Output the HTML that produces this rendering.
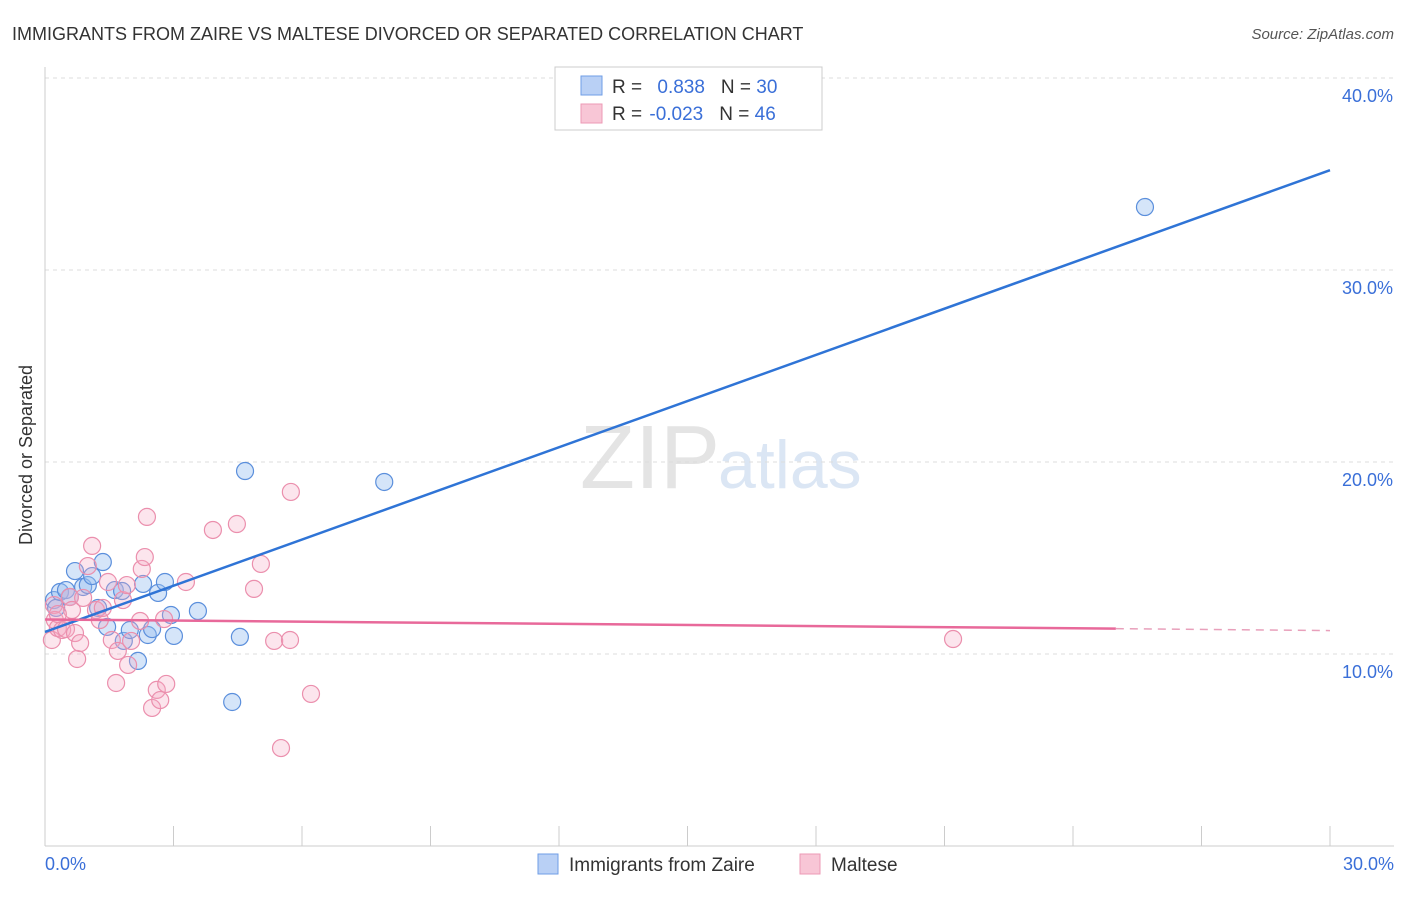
<!DOCTYPE html>
<html><head><meta charset="utf-8"><style>
body{margin:0;background:#fff;font-family:"Liberation Sans",sans-serif;}
svg text{font-family:"Liberation Sans",sans-serif;}
</style></head><body>
<svg width="1406" height="892" xmlns="http://www.w3.org/2000/svg">
<text x="12" y="40" font-size="18" fill="#333">IMMIGRANTS FROM ZAIRE VS MALTESE DIVORCED OR SEPARATED CORRELATION CHART</text>
<text x="1394" y="39" font-size="15" fill="#555" font-style="italic" text-anchor="end">Source: ZipAtlas.com</text>
<text x="720" y="488" font-size="90" fill="#e4e4e4" text-anchor="end" font-family="Liberation Serif">ZIP</text>
<text x="718" y="488" font-size="68" fill="#dbe6f4">atlas</text>
<g id="grid"></g>
<line x1="45" y1="67" x2="45" y2="846" stroke="#ccc"/>
<line x1="45" y1="846" x2="1394" y2="846" stroke="#ccc"/>
<g id="ticks"></g>
<text x="32" y="455" font-size="18" fill="#333" text-anchor="middle" transform="rotate(-90 32 455)">Divorced or Separated</text>
<text x="45" y="870" font-size="18" fill="#3a6fd8">0.0%</text>
<text x="1394" y="870" font-size="18" fill="#3a6fd8" text-anchor="end">30.0%</text>
<g id="pts"></g>
<g id="lines"></g>
<g>
<rect x="555" y="67" width="267" height="63" fill="#fff" stroke="#ccc"/>
<rect x="581" y="76" width="21" height="19" fill="#b9d0f5" stroke="#6f9ee6"/>
<rect x="581" y="104" width="21" height="19" fill="#f8c6d6" stroke="#ec9ab5"/>
<text x="612" y="93" font-size="19" fill="#333">R = <tspan fill="#3a6fd8" dx="10">0.838</tspan><tspan dx="16" fill="#333">N = </tspan><tspan fill="#3a6fd8">30</tspan></text>
<text x="612" y="120" font-size="19" fill="#333">R = <tspan fill="#3a6fd8" dx="2">-0.023</tspan><tspan dx="16" fill="#333">N = </tspan><tspan fill="#3a6fd8">46</tspan></text>
</g>
<g>
<rect x="538" y="854" width="20" height="20" fill="#b9d0f5" stroke="#6f9ee6"/>
<text x="569" y="871" font-size="19" fill="#333">Immigrants from Zaire</text>
<rect x="800" y="854" width="20" height="20" fill="#f8c6d6" stroke="#ec9ab5"/>
<text x="831" y="871" font-size="19" fill="#333">Maltese</text>
</g>
</svg>
<script>
const yTicks=[10,20,30,40];
const yTickLabels=["10.0%","20.0%","30.0%","40.0%"];
const xTickVals=[0,3,6,9,12,15,18,21,24,27,30];
const blueX=[0.21,0.26,0.35,0.49,0.58,0.70,0.89,1.00,1.10,1.24,1.35,1.45,1.63,1.80,1.84,1.98,2.17,2.29,2.40,2.50,2.64,2.80,2.94,3.01,3.57,4.37,4.55,4.67,7.92,25.68];
const blueY=[12.81,12.40,13.23,13.33,12.97,14.32,13.49,13.59,14.06,12.40,14.79,11.41,13.33,13.28,10.68,11.25,9.64,13.65,10.99,11.30,13.18,13.75,12.03,10.94,12.24,7.50,10.89,19.53,18.96,33.28];
const pinkX=[0.16,0.21,0.23,0.30,0.40,0.49,0.58,0.63,0.70,0.75,0.82,1.00,1.10,1.19,1.28,1.35,1.47,1.56,1.66,1.70,1.82,1.94,2.01,2.22,2.26,2.33,2.38,2.50,2.61,2.69,2.78,2.83,3.29,3.92,4.48,4.88,5.04,5.35,5.51,5.72,5.74,6.21,21.20,0.30,0.89,1.91];
const pinkY=[10.73,12.55,11.77,11.35,11.25,11.30,12.97,12.29,11.09,9.74,10.57,14.58,15.63,12.29,11.77,12.40,13.75,10.73,8.49,10.16,12.81,9.43,10.68,11.72,14.43,15.05,17.14,7.19,8.13,7.60,11.82,8.44,13.75,16.46,16.77,13.39,14.69,10.68,5.10,10.73,18.44,7.92,10.78,12.08,12.92,13.59];
const blueTrend=[[0,11.15],[30,35.2]];
const pinkTrend=[[0,11.8],[25,11.32],[30,11.22]];
const NS="http://www.w3.org/2000/svg";
const xs=v=>45+v*(1285/30);
const ys=v=>846-v*19.2;
function mk(tag,attrs,parent){const e=document.createElementNS(NS,tag);for(const k in attrs)e.setAttribute(k,attrs[k]);document.getElementById(parent).appendChild(e);return e;}
yTicks.forEach((t,i)=>{
 const g=mk('line',{x1:45,x2:1394,y1:ys(t),y2:ys(t),stroke:'#ddd','stroke-dasharray':'4,4'},'grid');
 
 
 const l=mk('text',{x:1393,y:ys(t)+24,'font-size':18,fill:'#3a6fd8','text-anchor':'end'},'grid');
 l.textContent=yTickLabels[i];
 
 
});
xTickVals.forEach(t=>{
 const e=mk('line',{x1:xs(t),x2:xs(t),y1:826,y2:846,stroke:'#ccc'},'ticks');
 
 
});
blueX.forEach((x,i)=>{
 const c=mk('circle',{cx:xs(x),cy:ys(blueY[i]),r:8.5,fill:'rgba(150,190,240,0.4)',stroke:'#5b8fdc','stroke-width':1.2},'pts');
 
 
});
pinkX.forEach((x,i)=>{
 const c=mk('circle',{cx:xs(x),cy:ys(pinkY[i]),r:8.5,fill:'rgba(245,170,195,0.3)',stroke:'#eb8fad','stroke-width':1.2},'pts');
 
 
});
const bl=mk('line',{x1:xs(blueTrend[0][0]),y1:ys(blueTrend[0][1]),x2:xs(blueTrend[1][0]),y2:ys(blueTrend[1][1]),stroke:'#2f74d6','stroke-width':2.5},'lines');


const pl=mk('line',{x1:xs(pinkTrend[0][0]),y1:ys(pinkTrend[0][1]),x2:xs(pinkTrend[1][0]),y2:ys(pinkTrend[1][1]),stroke:'#e8699a','stroke-width':2.5},'lines');


const pd=mk('line',{x1:xs(pinkTrend[1][0]),y1:ys(pinkTrend[1][1]),x2:xs(pinkTrend[2][0]),y2:ys(pinkTrend[2][1]),stroke:'#e8a0bb','stroke-width':1.5,'stroke-dasharray':'8,6'},'lines');


</script>
</body></html>
